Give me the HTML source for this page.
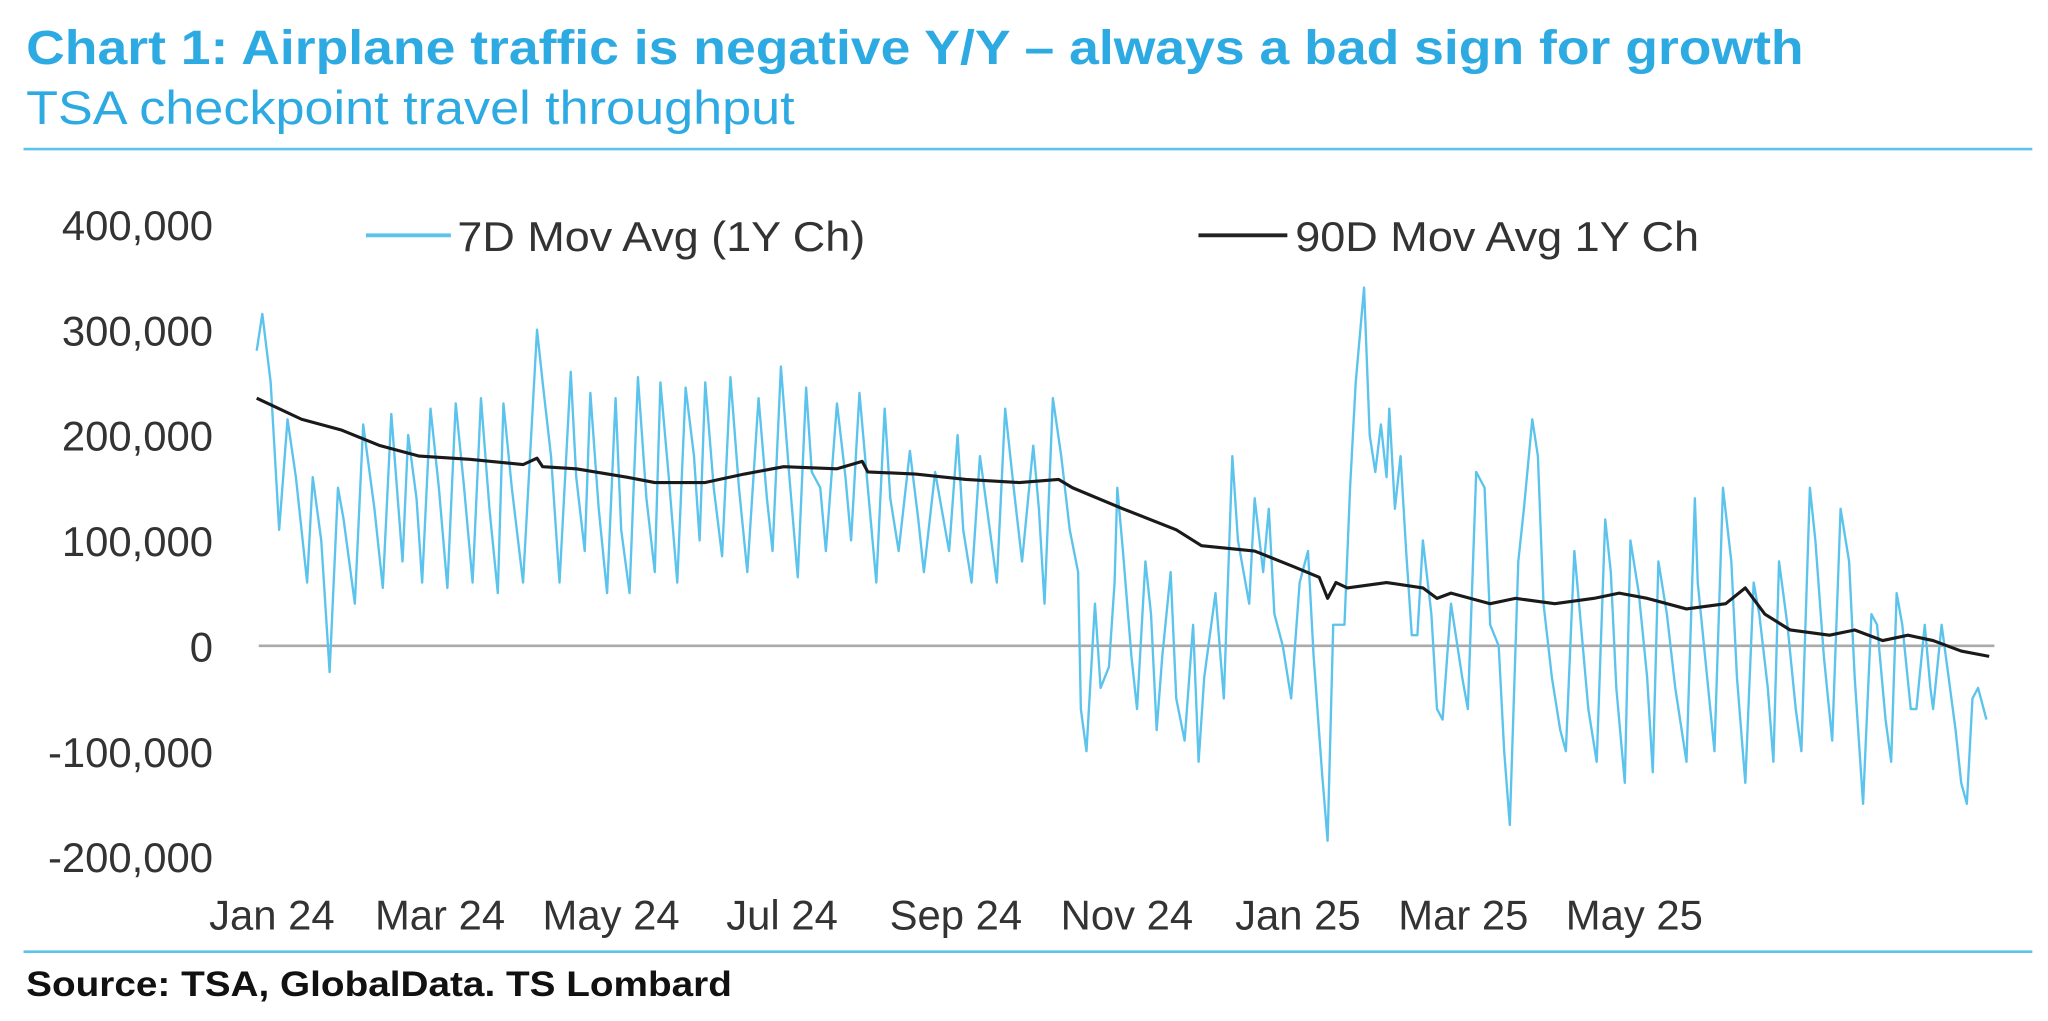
<!DOCTYPE html>
<html><head><meta charset="utf-8"><style>
html,body{margin:0;padding:0;background:#fff;}
svg{display:block;font-family:"Liberation Sans",sans-serif;}
</style></head><body>
<svg id="chart" width="2048" height="1021" viewBox="0 0 1567 781" preserveAspectRatio="none" xmlns="http://www.w3.org/2000/svg">
<text x="20" y="49" font-size="37" font-weight="bold" fill="#2eaae3" textLength="1360" lengthAdjust="spacingAndGlyphs">Chart 1: Airplane traffic is negative Y/Y – always a bad sign for growth</text>
<text x="20" y="95" font-size="36" fill="#2eaae3" textLength="588" lengthAdjust="spacingAndGlyphs">TSA checkpoint travel throughput</text>
<line x1="18" y1="114" x2="1555" y2="114" stroke="#5bc3ec" stroke-width="2"/>
<line x1="18" y1="728" x2="1555" y2="728" stroke="#5bc3ec" stroke-width="2"/>
<text x="20" y="762" font-size="27" font-weight="bold" fill="#111" textLength="540" lengthAdjust="spacingAndGlyphs">Source: TSA, GlobalData. TS Lombard</text>
<g>
<line x1="280" y1="180" x2="345" y2="180" stroke="#5bc3ec" stroke-width="3"/>
<text x="350" y="192" font-size="32" fill="#333" textLength="312" lengthAdjust="spacingAndGlyphs">7D Mov Avg (1Y Ch)</text>
<line x1="917" y1="180" x2="985" y2="180" stroke="#222" stroke-width="3"/>
<text x="991" y="192" font-size="32" fill="#333" textLength="309" lengthAdjust="spacingAndGlyphs">90D Mov Avg 1Y Ch</text>
</g>
<g id="yaxis"></g>
<g id="xaxis"></g>
<g id="plot"></g>
</svg>
<script>
const yTicks = [400000, 300000, 200000, 100000, 0, -100000, -200000];
const yTickLabels = ["400,000","300,000","200,000","100,000","0","-100,000","-200,000"];
const xTickDays = [0, 60, 121, 182, 244, 305, 366, 425, 486];
const xTickLabels = ["Jan 24","Mar 24","May 24","Jul 24","Sep 24","Nov 24","Jan 25","Mar 25","May 25"];
// 7D series: day offsets from 1 Jan 2024, values in thousands
const days7 = [-4,-2,1,4,7,10,14,16,19,22,25,27,31,34,38,41,44,48,50,53,55,58,61,64,67,70,73,76,79,82,84,87,91,96,98,101,104,108,110,113,115,118,121,124,126,129,132,135,138,140,143,146,149,152,154,156,159,162,165,168,171,175,178,180,183,186,189,192,194,197,199,203,206,208,211,214,217,220,222,225,229,232,234,238,241,243,246,248,251,254,257,260,263,266,269,273,275,277,280,283,286,289,290,292,295,297,300,302,303,305,308,310,313,315,317,319,322,324,327,330,332,334,338,341,344,346,350,352,355,357,359,362,365,368,371,373,376,378,380,382,384,386,388,391,393,395,397,399,400,402,404,406,408,410,412,415,417,419,422,426,428,431,434,436,439,441,443,446,448,451,453,455,458,461,463,466,468,471,474,477,479,481,484,486,489,492,494,496,499,502,506,509,510,513,516,519,522,524,527,530,532,535,537,539,542,545,547,550,552,555,558,561,564,566,569,572,574,577,579,581,583,586,588,591,593,594,597,599,602,604,606,608,610,613];
const vals7 = [280,315,250,110,215,160,60,160,100,-25,150,120,40,210,130,55,220,80,200,140,60,225,150,55,230,150,60,235,130,50,230,150,60,300,250,180,60,260,160,90,240,130,50,235,110,50,255,140,70,250,160,60,245,180,100,250,150,85,255,150,70,235,140,90,265,160,65,245,165,150,90,230,160,100,240,150,60,225,140,90,185,120,70,165,120,90,200,110,60,180,120,60,225,150,80,190,130,40,235,180,110,70,-60,-100,40,-40,-20,60,150,90,-10,-60,80,30,-80,-10,70,-50,-90,20,-110,-30,50,-50,180,100,40,140,70,130,30,0,-50,60,90,-10,-120,-185,20,20,20,150,250,340,200,165,210,160,225,130,180,90,10,10,100,30,-60,-70,40,-30,-60,165,150,20,0,-100,-170,80,130,215,180,40,-30,-80,-100,90,30,-60,-110,120,70,-40,-130,100,50,-30,-120,80,30,-40,-110,140,60,-20,-100,150,80,-30,-130,60,30,-40,-110,80,20,-60,-100,150,100,-10,-90,130,80,-30,-150,30,20,-70,-110,50,20,-60,-60,20,-40,-60,20,-20,-80,-130,-150,-50,-40,-70];
// 90D series
const days90 = [-4,12,26,40,54,72,91,96,98,110,128,138,156,170,184,203,212,214,231,249,268,282,287,305,324,333,352,366,375,378,381,385,399,412,417,422,436,445,459,473,482,492,506,520,527,534,543,557,566,576,585,594,604,614];
const vals90 = [235,215,205,190,180,177,172,178,170,168,160,155,155,163,170,168,175,165,163,158,155,158,150,130,110,95,90,75,65,45,60,55,60,55,45,50,40,45,40,45,50,45,35,40,55,30,15,10,15,5,10,5,-5,-10];

const NS = "http://www.w3.org/2000/svg";
const xS = d => 205 + d * 2.145;
const yS = v => 494 - v * 0.806; // v in thousands
const yaxis = document.getElementById('yaxis');
const xaxis = document.getElementById('xaxis');
const plot = document.getElementById('plot');

yTicks.forEach((t, i) => {
  const tx = document.createElementNS(NS, 'text');
  
  
  tx.setAttribute('x', 163); tx.setAttribute('y', yS(t / 1000) + 12);
  tx.setAttribute('text-anchor', 'end'); tx.setAttribute('font-size', '32'); tx.setAttribute('fill', '#333');
  tx.textContent = yTickLabels[i];
  yaxis.appendChild(tx);
});
xTickDays.forEach((d, i) => {
  const tx = document.createElementNS(NS, 'text');
  
  
  tx.setAttribute('x', xS(d) + 3); tx.setAttribute('y', 711);
  tx.setAttribute('text-anchor', 'middle'); tx.setAttribute('font-size', '32'); tx.setAttribute('fill', '#333');
  tx.textContent = xTickLabels[i];
  xaxis.appendChild(tx);
});
const zero = document.createElementNS(NS, 'line');


zero.setAttribute('x1', 198); zero.setAttribute('x2', 1526);
zero.setAttribute('y1', yS(0)); zero.setAttribute('y2', yS(0));
zero.setAttribute('stroke', '#aaa'); zero.setAttribute('stroke-width', '2');
plot.appendChild(zero);

function line(days, vals, color, w, name) {
  const p = document.createElementNS(NS, 'path');
  
  
  p.setAttribute('d', days.map((d, i) => (i ? 'L' : 'M') + xS(d).toFixed(1) + ' ' + yS(vals[i]).toFixed(1)).join(' '));
  p.setAttribute('fill', 'none'); p.setAttribute('stroke', color);
  p.setAttribute('stroke-width', w); p.setAttribute('stroke-linejoin', 'round');
  plot.appendChild(p);
}
line(days7, vals7, '#5bc3ec', 1.8, 'series-7d-line');
line(days90, vals90, '#1a1a1a', 2.4, 'series-90d-line');
</script>
</body></html>
